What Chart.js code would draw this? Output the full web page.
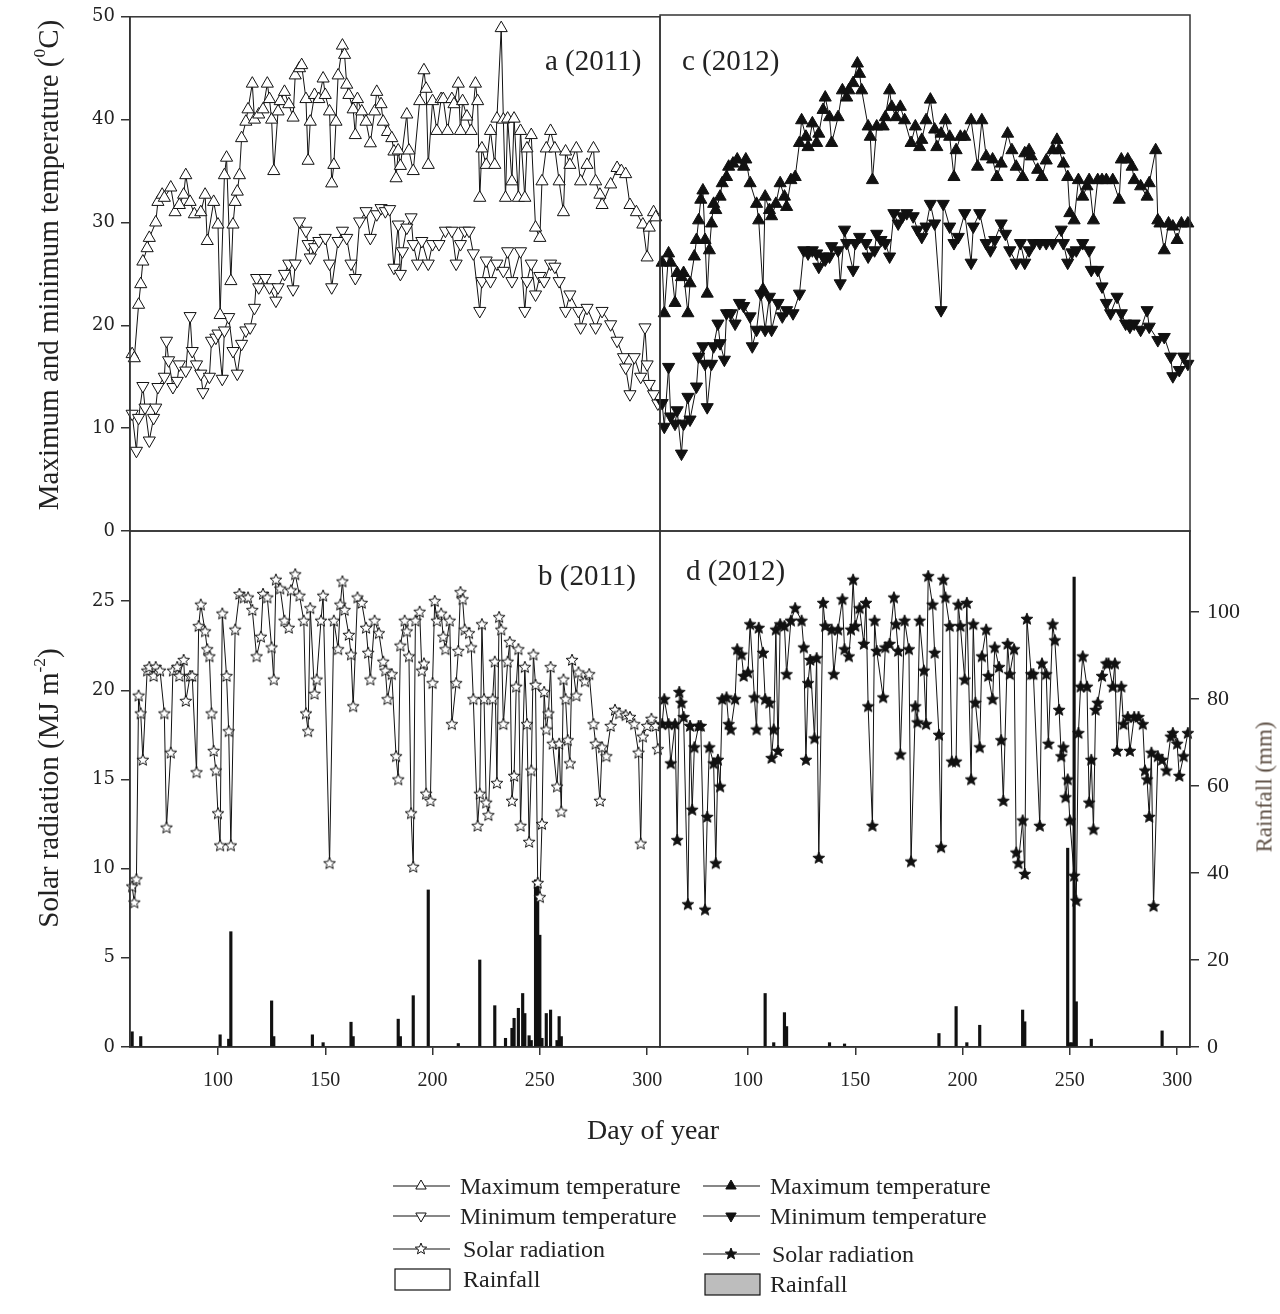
<!DOCTYPE html>
<html><head><meta charset="utf-8">
<script src="https://cdn.jsdelivr.net/npm/chart.js@4.4.0/dist/chart.umd.min.js"></script>
<style>
html,body{margin:0;padding:0;background:#fff}
body{width:1280px;height:1314px;position:relative;overflow:hidden;font-family:"Liberation Serif","Times New Roman",serif;color:#222}
canvas.c{position:absolute;left:0;top:0}
.t{position:absolute;white-space:nowrap;color:#222;line-height:1}
.v{transform:translate(-50%,-50%) rotate(-90deg)}
.m{transform:translateY(-50%)}
sup{font-size:60%;vertical-align:0.7em;line-height:0}
</style></head><body>
<canvas id="cTL" class="c" width="1280" height="1314"></canvas>
<canvas id="cTR" class="c" width="1280" height="1314"></canvas>
<canvas id="cBL" class="c" width="1280" height="1314"></canvas>
<canvas id="cBR" class="c" width="1280" height="1314"></canvas>

<div class="t" style="left:545px;top:60px;font-size:29px;transform:translateY(-50%)">a (2011)</div>
<div class="t" style="left:682px;top:60px;font-size:29px;transform:translateY(-50%)">c (2012)</div>
<div class="t" style="left:538px;top:575px;font-size:29px;transform:translateY(-50%)">b (2011)</div>
<div class="t" style="left:686px;top:570px;font-size:29px;transform:translateY(-50%)">d (2012)</div>

<div class="t v" style="left:48px;top:265px;font-size:29px">Maximum and minimum temperature (<sup>0</sup>C)</div>
<div class="t v" style="left:48px;top:788px;font-size:29px">Solar radiation (MJ m<sup>-2</sup>)</div>
<div class="t v" style="left:1264px;top:787px;font-size:23px;color:#5e5045">Rainfall (mm)</div>
<div class="t" style="left:653px;top:1130px;font-size:28px;transform:translate(-50%,-50%)">Day of year</div>

<svg style="position:absolute;left:0;top:0" width="1280" height="1314">
  <g stroke="#111" stroke-width="1.2" fill="none">
    <line x1="393" y1="1186" x2="450" y2="1186"/>
    <line x1="393" y1="1216" x2="450" y2="1216"/>
    <line x1="393" y1="1249" x2="450" y2="1249"/>
    <line x1="703" y1="1186" x2="760" y2="1186"/>
    <line x1="703" y1="1216" x2="760" y2="1216"/>
    <line x1="703" y1="1254" x2="760" y2="1254"/>
  </g>
  <polygon points="421,1180 426.2,1189 415.8,1189" fill="#fff" stroke="#111" stroke-width="1"/>
  <polygon points="421,1222 426.2,1213 415.8,1213" fill="#fff" stroke="#111" stroke-width="1"/>
  <polygon transform="translate(421,1249)" points="0,-6 1.53,-2.1 5.71,-1.85 2.47,0.8 3.53,4.85 0,2.6 -3.53,4.85 -2.47,0.8 -5.71,-1.85 -1.53,-2.1" fill="#fff" stroke="#111" stroke-width="1"/>
  <rect x="395" y="1269" width="55" height="21" fill="#fff" stroke="#111" stroke-width="1.2"/>
  <polygon points="731,1180 736.2,1189 725.8,1189" fill="#111" stroke="#111" stroke-width="1"/>
  <polygon points="731,1222 736.2,1213 725.8,1213" fill="#111" stroke="#111" stroke-width="1"/>
  <polygon transform="translate(731,1254)" points="0,-6 1.53,-2.1 5.71,-1.85 2.47,0.8 3.53,4.85 0,2.6 -3.53,4.85 -2.47,0.8 -5.71,-1.85 -1.53,-2.1" fill="#111" stroke="#111" stroke-width="1"/>
  <rect x="705" y="1274" width="55" height="21" fill="#bdbdbd" stroke="#111" stroke-width="1.2"/>
</svg>
<div class="t m" style="left:460px;top:1186px;font-size:24px">Maximum temperature</div>
<div class="t m" style="left:460px;top:1216px;font-size:24px">Minimum temperature</div>
<div class="t m" style="left:463px;top:1249px;font-size:24px">Solar radiation</div>
<div class="t m" style="left:463px;top:1279px;font-size:24px">Rainfall</div>
<div class="t m" style="left:770px;top:1186px;font-size:24px">Maximum temperature</div>
<div class="t m" style="left:770px;top:1216px;font-size:24px">Minimum temperature</div>
<div class="t m" style="left:772px;top:1254px;font-size:24px">Solar radiation</div>
<div class="t m" style="left:770px;top:1284px;font-size:24px">Rainfall</div>

<script>
// ---------------- DATA (day of year, value) ----------------
const tmax2011 = [[60,17.2],[61,16.8],[63,22],[64,24],[65,26.2],[67,27.5],[68,28.5],[71,30],[72,32],[74,32.7],[75,32.4],[78,33.4],[80,31],[82,31.7],[84,32.7],[85,34.6],[87,32],[89,30.8],[92,31],[94,32.7],[95,28.2],[98,32],[100,29.8],[101,21],[103,34.6],[104,36.3],[106,24.3],[107,29.8],[108,32],[109,33],[110,34.6],[111,38.2],[113,39.8],[114,41],[116,43.5],[117,40],[119,40.5],[121,41],[123,43.5],[124,42],[125,40],[126,35],[128,40.8],[129,41.8],[131,42.7],[133,41.5],[135,40.2],[136,44.3],[138,45],[139,45.3],[141,42],[142,36],[143,39.8],[145,42.4],[147,42],[149,44],[150,42.4],[152,40.8],[153,33.8],[154,35.6],[155,39.8],[156,44.3],[158,47.2],[159,46.3],[160,43.4],[161,42.4],[163,41],[164,38.5],[165,42],[167,40.8],[169,39.8],[171,37.7],[173,40.8],[174,42.7],[176,41.5],[177,39.8],[179,38.8],[181,38.2],[182,36.9],[183,34.3],[184,37],[185,35.5],[188,40.5],[189,37],[191,35],[194,41.8],[196,44.8],[197,43],[198,35.6],[200,41.8],[202,38.9],[204,42],[205,42],[207,38.9],[209,42],[210,41.5],[212,43.5],[213,38.9],[214,41.8],[216,40.3],[218,38.9],[220,43.5],[221,41.8],[222,32.4],[223,37.2],[225,35.6],[227,38.9],[229,35.6],[230,40.1],[232,48.9],[233,40],[234,32.4],[235,40.1],[237,34],[238,40.1],[240,32.4],[241,38.9],[243,32.4],[244,37.2],[246,38.5],[248,29.5],[250,28.5],[251,34],[253,37.2],[255,38.9],[257,37.2],[259,34],[261,31],[262,36.9],[264,35.6],[267,37.2],[269,34],[272,35.6],[275,37.2],[276,34],[278,32.7],[279,31.7],[283,33.7],[286,35.3],[288,35],[290,34.7],[292,31.7],[295,31],[298,29.8],[300,26.6],[301,29.5],[303,31],[304,30.5]];

const tmin2011 = [[60,11.4],[62,7.8],[63,11],[65,14.1],[66,12],[68,8.8],[70,11],[71,12],[72,14],[75,15],[76,18.5],[77,16.6],[79,14],[81,14.6],[82,16.2],[85,15.6],[87,20.9],[88,17.5],[90,16.2],[92,15.3],[93,13.5],[96,15],[97,18.5],[99,18.8],[100,19.2],[102,14.8],[103,19.5],[105,20.8],[107,17.5],[109,15.3],[111,18.2],[113,19.5],[115,19.8],[117,21.7],[118,24.6],[119,23.7],[122,24.6],[124,23.7],[127,22.4],[128,23.7],[131,25],[133,26],[135,23.5],[136,26],[138,30.1],[141,29.2],[142,27.9],[143,26.6],[145,27.6],[147,28.2],[150,28.5],[152,26],[153,23.7],[156,28.2],[158,29.2],[160,28.5],[162,26],[164,24.6],[166,30.1],[169,31.1],[171,28.5],[174,30.8],[176,31.4],[178,31.1],[180,31.3],[182,25.6],[184,29.8],[185,25],[186,27.2],[188,29.5],[190,30.5],[191,27.9],[193,26],[195,28.2],[198,26],[200,27.9],[203,27.9],[206,29.2],[209,29.2],[211,26],[213,27.9],[215,29.2],[217,29.2],[219,27],[222,21.4],[223,24.3],[225,26.3],[227,24.3],[230,26],[233,25.3],[235,27.2],[237,24.3],[241,27.2],[243,21.4],[244,24.3],[246,26],[248,23],[250,24.8],[252,24.3],[255,26],[257,25.7],[259,24.3],[262,21.4],[264,23],[268,21.4],[269,19.8],[272,21.7],[276,19.8],[279,21.4],[283,20.1],[286,18.5],[289,16.9],[290,15.9],[292,13.3],[294,16.9],[297,15],[299,19.8],[300,16.2],[301,14.3],[303,13.3],[305,12.4]];

const tmax2012 = [[60,26],[61,21.1],[63,26.9],[64,26],[66,22.1],[67,25],[69,24.6],[70,25],[72,21.1],[73,24],[75,26.6],[76,28.2],[77,30.1],[78,32.1],[79,33],[80,28.2],[81,23],[82,27.2],[83,29.8],[84,31.7],[85,31.1],[87,32.4],[88,33.7],[90,34.3],[91,35.3],[93,35.6],[95,36],[98,35.3],[99,36],[101,33.7],[104,31.7],[105,30.1],[107,23.4],[108,32.4],[110,31.1],[111,30.5],[113,31.7],[115,33.7],[117,32.4],[118,31.4],[120,34],[122,34.3],[124,37.6],[125,39.8],[127,38.2],[128,37.2],[130,39.5],[132,37.6],[133,38.5],[135,40.8],[136,42],[138,40.1],[139,37.6],[142,40.1],[144,42.7],[146,42],[147,42.7],[149,43.4],[151,45.3],[152,44.3],[153,42.7],[156,39.2],[157,38.2],[158,34],[160,39.2],[163,39.2],[164,40.1],[166,42.7],[167,41.1],[169,40.1],[171,41.1],[173,39.8],[176,37.6],[178,39.2],[180,37.2],[181,37.9],[183,39.8],[185,41.8],[187,38.9],[188,37.2],[190,38.5],[192,39.8],[194,38.2],[196,34.3],[197,36.9],[199,38.2],[201,38.2],[204,39.8],[207,35.3],[209,39.8],[211,36.3],[214,36],[216,34.3],[218,35.6],[221,38.5],[223,36.9],[225,35.3],[228,34.3],[229,36.6],[231,36.9],[232,36.3],[235,35],[237,34.3],[239,35.9],[242,36.9],[244,37.9],[245,36.9],[247,35.6],[249,34.3],[250,30.8],[252,30.1],[254,34],[256,32.4],[258,33.4],[259,34],[261,30.1],[263,34],[265,34],[267,34],[270,34],[273,32.1],[274,36],[277,36],[279,35.3],[280,34],[283,33.4],[286,32.4],[287,33.7],[290,36.9],[291,30.1],[292,29.8],[294,27.2],[296,29.8],[298,29.5],[300,28.2],[302,29.8],[305,29.8]];

const tmin2012 = [[60,12.4],[61,10.1],[63,15.9],[64,11.1],[66,10.4],[67,11.7],[69,7.5],[70,10.4],[72,13],[73,10.8],[76,14],[77,16.9],[79,17.9],[80,16.2],[81,12],[83,16.2],[84,17.9],[86,20.1],[87,18.2],[89,16.6],[90,21.1],[92,21.1],[94,20.1],[96,22.1],[98,21.8],[101,20.8],[102,17.9],[104,19.5],[106,23],[108,19.5],[110,22.7],[111,19.5],[114,22.1],[116,20.8],[118,21.4],[121,21.1],[124,23],[126,27.2],[128,26.9],[130,27.2],[132,26.9],[133,25.6],[135,26.6],[136,26.3],[138,26.6],[139,27.6],[142,27.2],[143,24],[145,29.2],[146,27.9],[149,25.3],[150,27.9],[152,28.5],[155,27.9],[156,26.6],[159,27.2],[160,28.8],[162,28.2],[164,27.9],[166,26.6],[168,30.8],[170,29.8],[172,30.5],[174,30.8],[177,30.5],[179,29.2],[181,28.5],[183,29.5],[185,31.7],[187,29.8],[190,21.4],[191,31.7],[194,29.5],[196,27.9],[198,28.5],[201,30.8],[204,26],[205,29.5],[208,30.8],[211,27.9],[213,27.2],[215,28.2],[218,29.8],[220,28.8],[222,27.2],[225,26],[227,27.9],[229,26],[231,27.2],[233,27.9],[236,27.9],[239,27.9],[242,27.9],[246,29.2],[247,27.9],[249,26],[251,27],[253,27.2],[256,27.9],[259,27.2],[260,25.3],[263,25.3],[265,23.7],[267,22.1],[269,21.1],[272,22.7],[274,21.1],[276,20.1],[278,19.8],[280,20.1],[283,19.5],[286,21.4],[287,19.8],[291,18.5],[294,18.8],[297,16.9],[298,15],[301,15.6],[303,16.9],[305,16.2]];

const solar2011 = [[60,9],[61,8.1],[62,9.4],[63,19.7],[64,18.7],[65,16.1],[67,21.1],[68,21.3],[70,20.8],[71,21.3],[73,21.1],[75,18.7],[76,12.3],[78,16.5],[79,21.1],[81,21.3],[82,20.8],[84,21.7],[85,19.4],[87,20.8],[88,20.8],[90,15.4],[91,23.6],[92,24.8],[94,23.3],[95,22.3],[96,21.9],[97,18.7],[98,16.6],[99,15.5],[100,13.1],[101,11.3],[102,24.3],[104,20.8],[105,17.7],[106,11.3],[108,23.4],[110,25.4],[112,25.2],[114,25.2],[116,24.5],[118,21.9],[120,23],[121,25.4],[123,25.2],[125,22.4],[126,20.6],[127,26.2],[129,25.7],[131,23.9],[133,23.5],[134,25.6],[136,26.5],[138,25.3],[140,23.9],[141,18.7],[142,17.7],[143,24.6],[145,19.8],[146,20.6],[148,23.9],[149,25.3],[152,10.3],[154,23.9],[156,22.3],[157,24.8],[158,26.1],[159,24.5],[161,23.1],[162,22],[163,19.1],[165,25.2],[167,24.9],[169,23.5],[170,22.1],[171,20.6],[173,23.9],[175,23.2],[177,21.6],[178,21.1],[179,19.5],[181,20.9],[183,16.3],[184,15],[185,22.5],[187,23.9],[188,23.3],[189,21.9],[190,13.1],[191,10.1],[192,23.9],[194,24.4],[195,21.1],[196,21.5],[197,14.2],[199,13.8],[200,20.4],[201,25],[202,23.9],[204,24.3],[205,23],[206,22.3],[208,23.9],[209,18.1],[211,20.4],[212,22.2],[213,25.5],[214,25.1],[215,23.4],[217,23.2],[218,22.4],[219,19.5],[221,12.4],[222,14.2],[223,23.7],[224,19.5],[225,13.7],[226,13],[228,19.5],[229,21.6],[230,14.8],[231,24.1],[232,23.4],[233,18.1],[235,21.6],[236,22.7],[237,13.8],[238,15.2],[239,20.2],[240,22.3],[241,12.4],[243,21.3],[244,18.1],[245,11.5],[246,15.5],[247,22],[248,20.3],[249,9.2],[250,8.4],[251,12.5],[252,19.9],[253,17.8],[254,18.7],[255,21.3],[256,17],[258,14.6],[259,17],[260,13.2],[261,20.6],[262,19.5],[263,17.2],[264,15.9],[265,21.7],[267,19.7],[268,21],[271,20.5],[273,20.9],[275,18.1],[276,17],[278,13.8],[279,16.8],[281,16.3],[283,18],[285,18.9],[287,18.7],[290,18.6],[292,18.5],[294,18.1],[296,16.5],[297,11.4],[298,17.4],[300,18],[302,18.4],[304,18],[305,16.7]];

const solar2012 = [[60,18.1],[61,19.5],[63,18.1],[64,15.9],[66,18.1],[67,11.6],[68,19.9],[69,19.3],[70,18.5],[72,8],[73,18],[74,13.3],[75,16.8],[77,18],[78,18],[80,7.7],[81,12.9],[82,16.8],[84,15.9],[85,10.3],[86,16.1],[87,14.6],[88,19.5],[90,19.6],[91,18.1],[92,17.8],[94,19.5],[95,22.3],[97,22],[98,20.8],[100,21],[101,23.7],[103,19.6],[104,17.8],[105,23.5],[107,22.1],[108,19.5],[110,19.3],[111,16.2],[112,17.8],[113,23.4],[114,16.6],[115,23.7],[117,23.6],[118,20.9],[120,23.9],[122,24.6],[125,23.9],[126,22.4],[127,16.1],[128,20.4],[129,21.7],[131,17.3],[132,21.8],[133,10.6],[135,24.9],[136,23.6],[139,23.4],[140,20.9],[142,23.4],[144,25.1],[145,22.3],[147,21.9],[148,23.4],[149,26.2],[150,23.6],[152,24.6],[154,22.6],[155,24.9],[156,19.1],[158,12.4],[159,23.9],[160,22.2],[163,19.6],[164,22.4],[166,22.6],[168,25.2],[169,23.7],[170,22.2],[171,16.4],[173,23.9],[175,22.3],[176,10.4],[178,19.1],[179,18.2],[180,23.9],[182,21.1],[183,18.1],[184,26.4],[186,24.8],[187,22.1],[189,17.5],[190,11.2],[191,26.2],[192,25.2],[194,23.6],[195,16],[197,16],[198,24.8],[199,23.6],[201,20.6],[202,24.9],[204,15],[205,23.7],[206,19.3],[208,16.8],[209,21.9],[211,23.4],[212,20.8],[214,19.5],[215,22.4],[217,21.3],[218,17.2],[219,13.8],[221,22.6],[222,20.9],[224,22.3],[225,10.9],[226,10.3],[228,12.7],[229,9.7],[230,24],[232,20.9],[233,20.9],[236,12.4],[237,21.5],[239,20.9],[240,17],[242,23.7],[243,22.8],[245,18.9],[246,16.3],[247,16.8],[248,14],[249,15],[250,12.7],[252,9.6],[253,8.2],[254,17.6],[255,20.2],[256,21.9],[258,20.2],[259,13.7],[260,16.1],[261,12.2],[262,18.9],[263,19.3],[265,20.8],[267,21.5],[268,21.5],[270,20.2],[271,21.5],[272,16.6],[274,20.2],[275,18.1],[277,18.5],[278,16.6],[280,18.5],[282,18.5],[284,18.1],[285,15.5],[286,15],[287,12.9],[288,16.5],[289,7.9],[291,16.3],[293,16.1],[295,15.5],[297,17.4],[298,17.6],[300,17],[301,15.2],[303,16.3],[305,17.6]];

const rain2011 = [[60,3.5],[64,2.4],[101,2.8],[105,1.8],[106,26.5],[125,10.6],[126,2.4],[144,2.8],[149,1],[162,5.7],[163,2.4],[184,6.4],[185,2.4],[191,11.8],[198,36.1],[212,0.8],[222,20],[229,9.5],[234,2],[237,4.3],[238,6.6],[240,8.9],[242,12.3],[243,7.7],[245,2.6],[246,1.5],[248,38.4],[249,37.6],[250,25.7],[251,2],[253,7.7],[255,8.5],[258,1.5],[259,7],[260,2.4]];

const rain2012 = [[108,12.3],[112,1],[117,7.9],[118,4.7],[138,1],[145,0.7],[189,3.1],[197,9.3],[202,1],[208,5],[228,8.5],[229,5.8],[249,45.7],[250,1],[251,1],[252,108],[253,10.4],[260,1.8],[293,3.7]];

const tempTicks = {min:0, max:50, step:10};
const solarTicks = {min:0, max:28.93, step:5};
const rainTicks = {min:0, max:118.6, step:20};
const dayRange = {min:59, max:306, step:50};

// ---------------- helpers ----------------
const pts = arr => arr.map(([x,y]) => ({x, y}));
function starImg(fill){
  const s=14, c=document.createElement('canvas'); c.width=s; c.height=s;
  const g=c.getContext('2d'); g.beginPath();
  for(let i=0;i<10;i++){const r=i%2?2.7:6.2; const a=-Math.PI/2+i*Math.PI/5; g.lineTo(7+r*Math.cos(a),7.3+r*Math.sin(a));}
  g.closePath(); g.fillStyle=fill; g.fill(); g.lineWidth=1; g.strokeStyle='#111'; g.stroke(); return c;
}
const openStar = starImg('#fff'), fullStar = starImg('#111');
const INK='#333';
const frame={id:'frame',afterDraw(ch){const a=ch.chartArea,g=ch.ctx;g.save();g.strokeStyle=INK;g.lineWidth=1.5;g.strokeRect(a.left,a.top,a.right-a.left,a.bottom-a.top);g.restore();}};

function lineDS(data, style, fill, rot, r){
  return {type:'line', data:pts(data), borderColor:'#111', borderWidth:1, tension:0,
    pointStyle:style, pointRadius:r, pointRotation:rot||0, pointBackgroundColor:fill,
    pointBorderColor:'#111', pointBorderWidth:1, clip:false, order:1, yAxisID:'y'};
}
function barDS(data){
  return {type:'bar', data:pts(data), backgroundColor:'#111', borderWidth:0, barThickness:2.5,
    order:2, yAxisID:'yR', grouped:false};
}
function xScale(show){
  return {type:'linear', min:dayRange.min, max:dayRange.max, offset:false, display:show,
    afterFit:s=>{s.height = show ? 40 : 0;},
    ticks:{stepSize:dayRange.step, includeBounds:false, autoSkip:false, maxRotation:0,
      font:{family:'Liberation Serif', size:20}, color:'#222', padding:14},
    grid:{offset:false, drawOnChartArea:false, drawTicks:true, tickLength:8, color:INK, lineWidth:1.5},
    border:{display:true, color:INK, width:1.5}};
}
function yScale(t, pos, show, font, pad){
  return {type:'linear', position:pos, min:t.min, max:t.max, display:show,
    afterFit:s=>{s.width = show ? 60 : 0;},
    ticks:{stepSize:t.step, includeBounds:false, font:font, color:'#222', padding:pad},
    grid:{offset:false, drawOnChartArea:false, drawTicks:true, tickLength:9, color:INK, lineWidth:1.5},
    border:{display:true, color:INK, width:1.5}};
}
function make(id, datasets, scales, padding){
  new Chart(document.getElementById(id), {
    type:'line', data:{datasets},
    options:{responsive:false, animation:false, events:[], layout:{padding},
      plugins:{legend:{display:false}, tooltip:{enabled:false}, title:{display:false}},
      scales},
    plugins:[frame]
  });
}
const leftFont={family:'DejaVu Serif', size:18};
const rightFont={family:'Liberation Serif', size:22};

// Top-left: 2011 temperatures
make('cTL', [lineDS(tmax2011,'triangle','#fff',0,7), lineDS(tmin2011,'triangle','#fff',180,7)],
  {x:xScale(false), y:yScale(tempTicks,'left',true,leftFont,6)},
  {left:70, right:620, top:15, bottom:783});
// Top-right: 2012 temperatures
make('cTR', [lineDS(tmax2012,'triangle','#111',0,7), lineDS(tmin2012,'triangle','#111',180,7)],
  {x:xScale(false), y:yScale(tempTicks,'left',false,leftFont,6)},
  {left:660, right:90, top:15, bottom:783});
// Bottom-left: 2011 solar + rain
make('cBL', [lineDS(solar2011, openStar, '#fff', 0, 6), barDS(rain2011)],
  {x:xScale(true), y:yScale(solarTicks,'left',true,leftFont,6), yR:yScale(rainTicks,'right',false,rightFont,8)},
  {left:70, right:620, top:531, bottom:227});
// Bottom-right: 2012 solar + rain
make('cBR', [lineDS(solar2012, fullStar, '#111', 0, 6), barDS(rain2012)],
  {x:xScale(true), y:yScale(solarTicks,'left',false,leftFont,6), yR:yScale(rainTicks,'right',true,rightFont,8)},
  {left:660, right:30, top:531, bottom:227});
</script>
</body></html>
